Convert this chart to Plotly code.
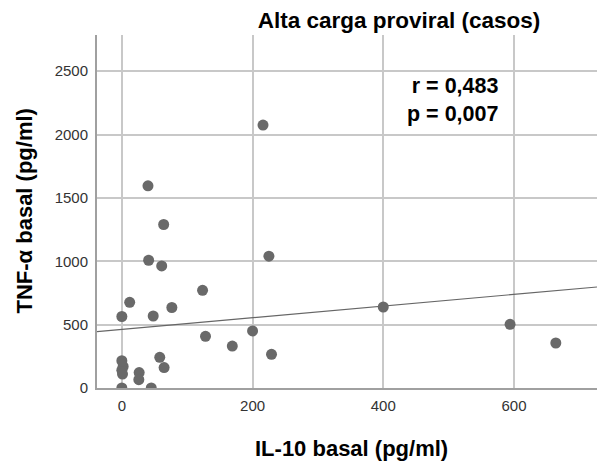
import plotly.graph_objects as go

# IL-10 basal (pg/ml) and TNF-alpha basal (pg/ml)
il10 = [0, 2, 0, 1, 0, 0, 12, 40, 64, 41, 61, 225, 123.5, 48, 76.5, 128, 169, 200,
        229, 26.5, 26, 58, 64.7, 45, 216, 400, 664, 594]
tnfa = [0, 170, 140, 110, 215, 564, 676, 1595, 1290, 1008, 963, 1040, 771, 568, 635,
        408, 331, 450, 266, 122, 66, 242, 161, 0, 2074, 639, 355, 502]

# fitted linear regression line (as drawn in the reference)
fit_intercept = 463.0
fit_slope = 0.459

x_range = [-38, 727]
y_range = [0, 2785]
x_ticks = [0, 200, 400, 600]
y_ticks = [0, 500, 1000, 1500, 2000, 2500]

title_text = "Alta carga proviral (casos)"
x_title = "IL-10 basal (pg/ml)"
y_title = "TNF-α basal (pg/ml)"
stats_text = "r = 0,483<br>p = 0,007"

FONT = "Arial, 'Liberation Sans', sans-serif"

W, H = 597, 464

fig = go.Figure()
line_x = list(x_range)
line_y = [fit_intercept + fit_slope * v for v in line_x]
fig.add_trace(go.Scatter(x=line_x, y=line_y, mode="lines",
                         line=dict(color="#666666", width=1.2),
                         hoverinfo="skip", showlegend=False))
fig.add_trace(go.Scatter(x=il10, y=tnfa, mode="markers",
                         marker=dict(color="#696969", size=11, line=dict(width=0)),
                         showlegend=False))

fig.update_layout(
    width=W, height=H,
    margin=dict(l=97, r=0, t=35, b=76, pad=0),
    paper_bgcolor="white", plot_bgcolor="white",
    font=dict(family=FONT, color="#222222"),
    title=dict(text="<b>" + title_text + "</b>", font=dict(size=22.5, color="#000000", family=FONT),
               xref="container", yref="container", x=399 / W, y=1 - 20 / H,
               xanchor="center", yanchor="middle"),
    xaxis=dict(range=x_range, tickvals=x_ticks, showgrid=True, gridcolor="#c8c8c8", gridwidth=1.5,
               zeroline=False, showline=True, linecolor="#a0a0a0", linewidth=2,
               tickfont=dict(size=15, color="#333333"), ticks="", ticklabelstandoff=3),
    yaxis=dict(range=y_range, tickvals=y_ticks, showgrid=True, gridcolor="#c8c8c8", gridwidth=1.5,
               zeroline=False, showline=True, linecolor="#a0a0a0", linewidth=2,
               tickfont=dict(size=15, color="#333333"), ticks="", ticklabelstandoff=4),
    annotations=[
        dict(text="<b>" + x_title + "</b>", xref="paper", yref="paper", x=0.509, y=-0.17,
             xanchor="center", yanchor="middle", showarrow=False,
             font=dict(size=22, color="#000000", family=FONT)),
        dict(text="<b>" + y_title + "</b>", xref="paper", yref="paper", x=-0.146, y=0.5,
             xanchor="center", yanchor="middle", showarrow=False, textangle=-90,
             font=dict(size=22, color="#000000", family=FONT)),
        dict(text="<b>" + stats_text + "</b>", xref="paper", yref="paper", x=0.806, y=0.816,
             xanchor="right", yanchor="middle", align="right", showarrow=False,
             font=dict(size=21.5, color="#000000", family=FONT)),
    ],
)

# remove the default page margin so the figure fills the window exactly
reset_page = ("document.body.style.margin='0';"
              "document.body.style.overflow='hidden';"
              "document.documentElement.style.overflow='hidden';")

fig.write_html("out.html", post_script=reset_page, config={"displayModeBar": False})
